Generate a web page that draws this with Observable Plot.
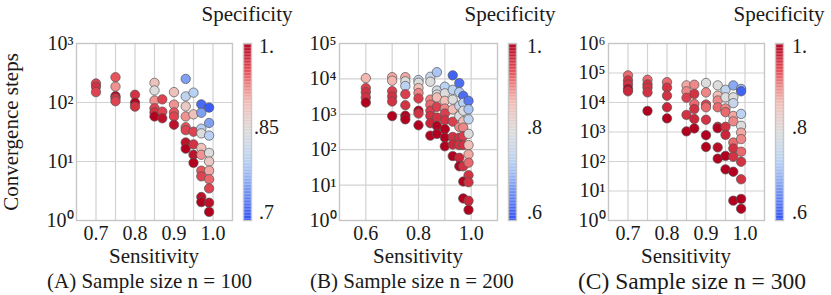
<!DOCTYPE html>
<html><head><meta charset="utf-8">
<script src="https://cdn.jsdelivr.net/npm/d3@7"></script>
<script src="https://cdn.jsdelivr.net/npm/@observablehq/plot@0.6"></script>
<style>
body{margin:0;background:#fff;}
#fig{position:relative;width:831px;height:295px;overflow:hidden;}
#fig svg{position:absolute;top:0;}
</style></head><body><div id="fig"></div>
<script>
// ---------- Panel A: n = 100 ----------
const sensA = [0.7,0.7,0.7, 0.75,0.75,0.75,0.75,0.75, 0.8,0.8,0.8,
  0.85,0.85,0.85,0.85,0.85,0.85, 0.87,0.87,0.87, 0.9,0.9,0.9,0.9,0.9,
  0.93,0.93,0.93,0.93,0.93,0.93,0.93,0.93, 0.95,0.95,0.95,0.95,0.95,0.95,
  0.97,0.97,0.97,0.97,0.97,0.97,0.97,0.97,0.97,0.97,
  0.99,0.99,0.99,0.99,0.99,0.99,0.99,0.99,0.99,0.99];
const stepsA = [210,185,150, 268,186,128,118,105, 135,99,85,
  215,160,108,80,68,58, 113,70,54, 150,92,68,58,42,
  251,127,86,58,38,34,21,16.5, 147,63,32,19.5,13,9.5,
  93,67,36,30,17,13,7,5.6,2.5,2.05,
  82,45,27.5,14,10,7,5,3.5,2,1.4];
const specA = [0.96,0.97,0.96, 0.95,0.92,1.0,0.97,0.96, 0.97,1.0,0.97,
  0.89,0.85,0.92,0.96,0.97,1.0, 0.96,0.96,0.99, 0.89,0.92,0.95,0.96,0.99,
  0.76,0.81,0.88,0.92,0.95,0.96,0.99,1.0, 0.80,0.89,0.96,0.97,0.99,1.0,
  0.72,0.76,0.80,0.85,0.89,0.92,0.95,0.96,0.99,1.0,
  0.71,0.76,0.80,0.85,0.88,0.91,0.94,0.96,0.99,1.0];

// ---------- Panel B: n = 200 ----------
const sensB = [0.6,0.6,0.6,0.6,0.6, 0.7,0.7,0.7,0.7,0.7,0.7,
  0.75,0.75,0.75,0.75,0.75,0.75,0.75, 0.8,0.8,0.8,0.8,0.8,0.8,0.8,0.8,
  0.845,0.845,0.845,0.845,0.845,0.845,0.845,0.845,
  0.87,0.87,0.87,0.87,0.87,0.87,0.87,0.87,
  0.9,0.9,0.9,0.9,0.9,0.9,0.9,0.9,0.9,
  0.93,0.93,0.93,0.93,0.93,0.93,0.93,0.93,
  0.955,0.955,0.955,0.955,0.955,0.955,0.955,0.955,0.955,
  0.97,0.97,0.97,0.97,0.97,0.97,0.97,0.97,0.97,0.97,
  0.99,0.99,0.99,0.99,0.99,0.99,0.99,0.99,0.99,0.99,0.99];
const stepsB = [10500,5500,4200,3000,2150, 11200,8900,4500,3200,2300,890,
  11200,8500,6300,3700,1800,910,720, 9300,7800,5500,4000,2800,1260,1050,490,
  11500,8300,2600,1860,1260,890,560,250,
  15500,4700,3600,3000,1620,810,470,280,
  6000,3900,2400,1450,1050,680,380,220,125,
  12600,4900,2600,1380,620,230,140,66,
  7600,4200,1740,890,440,220,135,59,34,
  3300,2100,1260,630,420,240,135,34,12.6,4.2,
  2400,1380,720,280,135,74,43,19,12,3.6,2];
const specB = [0.87,0.95,0.96,0.96,1.0, 0.88,0.87,0.95,0.96,0.96,1.0,
  0.88,0.80,0.74,0.95,0.96,1.0,1.0, 0.76,0.80,0.86,0.90,0.95,1.0,0.96,1.0,
  0.76,0.80,0.90,0.92,0.95,0.96,0.97,1.0,
  0.72,0.78,0.80,0.86,0.95,0.96,1.0,1.0,
  0.74,0.80,0.86,0.90,0.95,0.96,1.0,1.0,1.0,
  0.62,0.74,0.80,0.86,0.95,0.96,0.97,1.0,
  0.63,0.73,0.76,0.80,0.90,0.96,0.96,0.97,1.0,
  0.63,0.74,0.80,0.86,0.90,0.95,0.96,0.96,1.0,1.0,
  0.64,0.72,0.75,0.80,0.86,0.88,0.92,0.96,0.96,0.97,1.0];

// ---------- Panel C: n = 300 ----------
const sensC = [0.7,0.7,0.7,0.7,0.7, 0.75,0.75,0.75,0.75,0.75, 0.8,0.8,0.8,0.8,0.8,
  0.85,0.85,0.85,0.85,0.85, 0.87,0.87,0.87,0.87,0.87,0.87,
  0.9,0.9,0.9,0.9,0.9,0.9,0.9, 0.93,0.93,0.93,0.93,0.93,0.93,0.93,0.93,
  0.95,0.95,0.95,0.95,0.95,0.95,0.95,0.95,
  0.97,0.97,0.97,0.97,0.97,0.97,0.97,0.97,0.97,0.97,
  0.99,0.99,0.99,0.99,0.99,0.99,0.99,0.99,0.99,0.99,0.99];
const stepsC = [83000,56000,41000,29000,24000, 59000,41000,32000,22000,5200,
  49000,32000,17000,6900,2900, 38000,24000,14500,3800,1050,
  40000,19500,8900,6000,2750,1320,
  46000,22000,8500,6900,2600,780,310,
  38000,17000,11700,6900,1500,1350,300,125,
  27000,15000,6300,4700,1500,800,155,54,
  38000,15000,9500,3500,2300,440,275,145,45,4.7,
  29000,24000,4100,1620,950,575,215,98,25,5.4,2.5];
const specC = [0.92,0.96,0.96,1.0,0.97, 0.92,0.96,0.96,0.96,1.0,
  0.92,0.96,0.96,0.97,1.0, 0.88,0.90,0.95,0.96,1.0,
  0.90,0.96,0.92,0.96,0.97,1.0,
  0.80,0.90,0.95,0.92,0.96,1.0,1.0,
  0.80,0.86,0.90,0.92,0.96,1.0,0.99,1.0,
  0.75,0.80,0.90,0.92,0.96,0.97,1.0,1.0,
  0.69,0.80,0.76,0.88,0.90,0.92,0.96,0.96,1.0,1.0,
  0.70,0.62,0.74,0.80,0.88,0.90,0.92,0.96,0.96,1.0,1.0];

// ---------- Axis ticks & labels ----------
const xTicksA = [0.7,0.8,0.9,1.0], xGridA = [0.7,0.75,0.8,0.85,0.9,0.95,1.0];
const xTicksB = [0.6,0.8,1.0],    xGridB = [0.6,0.7,0.8,0.9,1.0];
const xTicksC = [0.7,0.8,0.9,1.0], xGridC = [0.7,0.75,0.8,0.85,0.9,0.95,1.0];
const yTicksA = [1,10,100,1000];
const yTicksB = [1,10,100,1000,10000,100000];
const yTicksC = [1,10,100,1000,10000,100000,1000000];
const legendA = [1.0,0.85,0.7], legendLabelsA = ["1.",".85",".7"];
const legendB = [1.0,0.8,0.6],  legendLabelsB = ["1.",".8",".6"];
const legendC = [1.0,0.8,0.6],  legendLabelsC = ["1.",".8",".6"];
const captions = ["(A) Sample size n = 100","(B) Sample size n = 200","(C) Sample size n = 300"];
const xLabel = "Sensitivity", yLabel = "Convergence steps", legendTitle = "Specificity";

const colorRange = ["#2d4ff6","#7294f2","#b8d1f4","#dcdcdc","#f3bcb4","#e8545c","#b3001e"];

// pick an installed Times-like serif font
function hasFont(name){
  const c = document.createElement("canvas").getContext("2d");
  const s = "abcdefghijklmnopqrstuvwxyzABCDEFGHIJ0123456789";
  const out = [];
  for (const base of ["monospace","sans-serif"]) {
    c.font = `40px ${base}`; const w1 = c.measureText(s).width;
    c.font = `40px "${name}", ${base}`; const w2 = c.measureText(s).width;
    out.push(Math.abs(w1 - w2) > 0.5);
  }
  return out[0] || out[1];
}
const candidates = ["Liberation Serif","Tinos","Times New Roman","Times","Nimbus Roman","FreeSerif","DejaVu Serif","Noto Serif"];
const found = candidates.find(hasFont);
const FONT = found ? `"${found}", serif` : "serif";

const sup = {"0":"\u2070","1":"\u00b9","2":"\u00b2","3":"\u00b3","4":"\u2074","5":"\u2075","6":"\u2076"};
const fmtPow = d => "10" + sup[String(Math.round(Math.log10(d)))];
const fig = document.getElementById("fig");

function colorScale(lo){
  return {type:"linear", domain: d3.range(7).map(k => lo + (1-lo)*k/6), range: colorRange, interpolate:"rgb"};
}

function scatter(o){
  const data = o.sens.map((s,i) => ({s, v:o.steps[i], c:o.spec[i]}));
  const svg = Plot.plot({
    width: o.width, height: 250, marginLeft: o.mL, marginRight: 2, marginTop: 43, marginBottom: 30,
    style: {fontFamily: FONT, fontSize: "20px", background: "transparent", color: "#1a1a1a", overflow: "visible"},
    x: {domain: o.xDomain, ticks: o.xTicks, tickFormat: d3.format(".1f"), tickSize: 0, tickPadding: 5, label: null},
    y: {type: "log", domain: o.yDomain, ticks: o.yTicks, tickFormat: fmtPow, tickSize: 0, tickPadding: 3, label: null},
    color: colorScale(o.lo),
    marks: [
      Plot.ruleX(o.xGrid, {stroke: "#d2d2d2", strokeWidth: 1.2}),
      Plot.ruleY(o.yTicks, {stroke: "#d2d2d2", strokeWidth: 1.2}),
      Plot.frame({stroke: "#c6c6c6", strokeWidth: 1.4}),
      Plot.dot(data, {x: "s", y: "v", fill: "c", r: 4.7, stroke: "#555", strokeWidth: 0.7})
    ]
  });
  svg.style.left = o.left + "px";
  fig.appendChild(svg);
}

function colorbar(o){
  const n = 120, lo = o.lo;
  const bands = d3.range(n).map(i => ({y1: lo + (1-lo)*i/n, y2: lo + (1-lo)*(i+1)/n}));
  const lab = o.vals.map((v,i) => ({v, t: o.labels[i]}));
  const svg = Plot.plot({
    width: o.width, height: 250, marginLeft: o.mL, marginRight: o.width - o.mL - 8, marginTop: 43, marginBottom: 30,
    style: {fontFamily: FONT, fontSize: "20px", background: "transparent", color: "#1a1a1a", overflow: "visible"},
    x: {domain: [0,1], axis: null},
    y: {domain: [lo,1], axis: null},
    color: colorScale(lo),
    marks: [
      Plot.rect(bands, {x1: () => 0, x2: () => 1, y1: "y1", y2: "y2", fill: d => (d.y1+d.y2)/2, inset: 0}),
      Plot.frame({stroke: "#c6c6c6", strokeWidth: 1.4}),
      Plot.text([lab[0]], {x: () => 1, y: "v", text: "t", dx: o.dx, dy: 3, fill: "#1a1a1a"}),
      Plot.text([lab[1]], {x: () => 1, y: "v", text: "t", dx: o.dx, dy: -4, fill: "#1a1a1a"}),
      Plot.text([lab[2]], {x: () => 1, y: "v", text: "t", dx: o.dx, dy: -8, fill: "#1a1a1a"})
    ]
  });
  svg.style.left = o.left + "px";
  fig.appendChild(svg);
}

scatter({sens: sensA, steps: stepsA, spec: specA, lo: 0.7, xDomain: [0.65,1.05], yDomain: [1,1000],
  xTicks: xTicksA, xGrid: xGridA, yTicks: yTicksA, left: 0, width: 234, mL: 76});
colorbar({lo: 0.7, vals: legendA, labels: legendLabelsA, left: 235, width: 45, mL: 8, dx: 15});

scatter({sens: sensB, steps: stepsB, spec: specB, lo: 0.6, xDomain: [0.5,1.1], yDomain: [1,100000],
  xTicks: xTicksB, xGrid: xGridB, yTicks: yTicksB, left: 280, width: 219, mL: 59});
colorbar({lo: 0.6, vals: legendB, labels: legendLabelsB, left: 500, width: 58, mL: 8, dx: 18});

scatter({sens: sensC, steps: stepsC, spec: specC, lo: 0.6, xDomain: [0.65,1.05], yDomain: [1,1000000],
  xTicks: xTicksC, xGrid: xGridC, yTicks: yTicksC, left: 560, width: 206, mL: 48});
colorbar({lo: 0.6, vals: legendC, labels: legendLabelsC, left: 767, width: 64, mL: 8, dx: 16});

// ---------- Titles / axis labels overlay ----------
const NS = "http://www.w3.org/2000/svg";
const ov = document.createElementNS(NS, "svg");
ov.setAttribute("width", 831); ov.setAttribute("height", 295);
ov.style.left = "0px"; ov.style.pointerEvents = "none";
ov.setAttribute("font-family", FONT); ov.setAttribute("fill", "#1a1a1a");
function txt(s, x, y, anchor, size, rot){
  const t = document.createElementNS(NS, "text");
  t.textContent = s; t.setAttribute("x", x); t.setAttribute("y", y);
  t.setAttribute("text-anchor", anchor); t.setAttribute("font-size", size);
  if (rot) t.setAttribute("transform", `rotate(${rot},${x},${y})`);
  ov.appendChild(t);
}
txt(legendTitle, 247, 21, "middle", 21);
txt(legendTitle, 510, 21, "middle", 21);
txt(legendTitle, 779, 21, "middle", 21);
txt(xLabel, 154, 263, "middle", 21);
txt(xLabel, 418, 263, "middle", 21);
txt(xLabel, 686, 263, "middle", 21);
txt(yLabel, 18, 132, "middle", 21, -90);
txt(captions[0], 47, 288, "start", 21);
txt(captions[1], 310, 288, "start", 21);
txt(captions[2], 578, 289, "start", 23.5);
fig.appendChild(ov);
</script></body></html>
